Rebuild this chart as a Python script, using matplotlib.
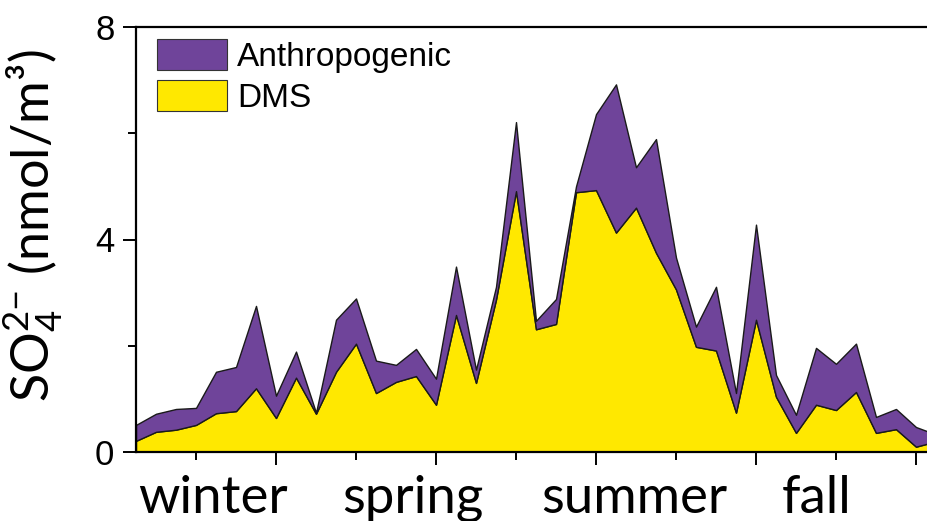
import matplotlib
matplotlib.use("Agg")
import matplotlib.pyplot as plt
from matplotlib.patches import Patch
from matplotlib.ticker import FixedLocator
import matplotlib.transforms as mtransforms

# ---- data ----
sample_index = list(range(41))
dms = [0.21, 0.38, 0.42, 0.51, 0.73, 0.77, 1.20, 0.64, 1.40, 0.72,
       1.51, 2.04, 1.11, 1.32, 1.43, 0.89, 2.58, 1.30, 2.87, 4.91,
       2.31, 2.41, 4.89, 4.93, 4.13, 4.60, 3.75, 3.06, 1.98, 1.91,
       0.74, 2.49, 1.04, 0.36, 0.89, 0.79, 1.13, 0.36, 0.43, 0.10, 0.20]
anthropogenic = [0.30, 0.34, 0.39, 0.32, 0.78, 0.83, 1.55, 0.42, 0.49, 0.02,
                 0.98, 0.85, 0.61, 0.32, 0.51, 0.49, 0.91, 0.25, 0.24, 1.30,
                 0.16, 0.47, 0.11, 1.43, 2.79, 0.76, 2.14, 0.60, 0.38, 1.20,
                 0.37, 1.79, 0.41, 0.34, 1.07, 0.87, 0.91, 0.30, 0.38, 0.37, 0.13]
series_labels = ["DMS", "Anthropogenic"]
seasons = ["winter", "spring", "summer", "fall"]
season_pos = [3.85, 13.85, 24.9, 34.05]
y_ticks = [0, 4, 8]
y_minor = [2, 6]
x_major = [7, 15, 23, 31, 39]
x_minor = [3, 11, 19, 27, 35]

purple = "#6f449a"
yellow = "#ffe800"

plt.rcParams['font.family'] = ['Liberation Sans', 'DejaVu Sans']
plt.rcParams['mathtext.fontset'] = 'custom'
plt.rcParams['mathtext.rm'] = 'Lato'
plt.rcParams['mathtext.it'] = 'Lato:italic'
plt.rcParams['mathtext.bf'] = 'Lato:bold'

W, H = 927, 521
fig = plt.figure(figsize=(W / 100, H / 100), dpi=100)
ax = fig.add_axes([136 / W, 1 - 452 / H, 800 / W, 425 / H])

polys = ax.stackplot(sample_index, dms, anthropogenic,
                     colors=[yellow, purple], edgecolor="#1a1a1a",
                     linewidth=1.0, labels=series_labels)

ax.set_xlim(0, 40)
ax.set_ylim(0, 8)

ax.spines['right'].set_visible(False)
for s in ['left', 'top', 'bottom']:
    ax.spines[s].set_linewidth(1.6)

ax.xaxis.set_major_locator(FixedLocator(x_major))
ax.xaxis.set_minor_locator(FixedLocator(x_minor))
ax.yaxis.set_major_locator(FixedLocator(y_ticks))
ax.yaxis.set_minor_locator(FixedLocator(y_minor))
ax.set_xticklabels([])
ax.tick_params(axis='both', which='major', direction='out', length=9.5,
               width=1.4, labelsize=25, pad=6)
ax.tick_params(axis='both', which='minor', direction='out', length=5.5,
               width=1.4)

trans = mtransforms.blended_transform_factory(ax.transData, ax.transAxes)
for name, xp in zip(seasons, season_pos):
    ax.text(xp, -61 / 425, name, transform=trans, ha='center',
            va='baseline', fontsize=38, family='Lato')

fig.text(33 / W, 1 - 226 / H, r"SO$_4^{2\mathrm{-}}$ (nmol/m³)", rotation=90,
         ha='center', va='center', fontsize=37.5, family='Lato')

handles = [Patch(facecolor=purple, edgecolor="#333333", linewidth=0.8),
           Patch(facecolor=yellow, edgecolor="#333333", linewidth=0.8)]
ax.legend(handles, ["Anthropogenic", "DMS"], loc='upper left',
          bbox_to_anchor=(21 / 800, (452 - 39) / 425), frameon=False,
          fontsize=24, handlelength=2.1, handleheight=1.05,
          labelspacing=0.22, handletextpad=0.3, borderpad=0,
          borderaxespad=0)

fig.savefig("out.png", dpi=100)
